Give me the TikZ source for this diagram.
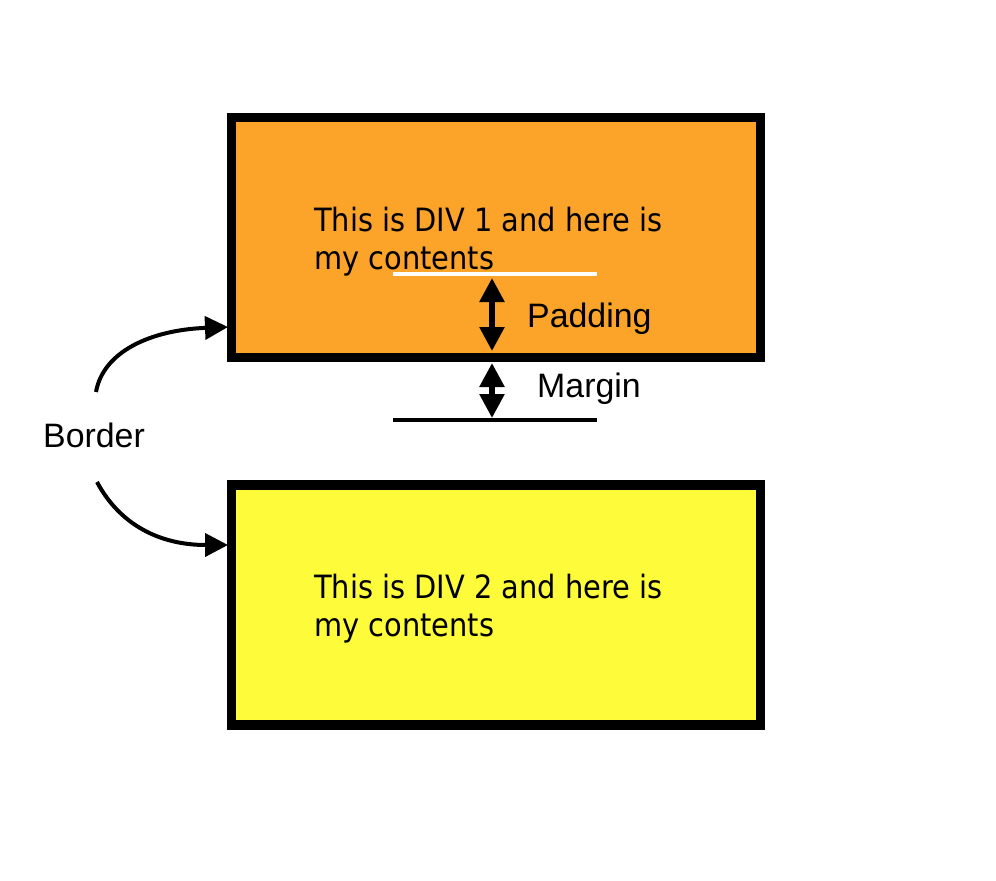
\documentclass[tikz,border=0pt]{standalone}
\usepackage{fontspec}
\setmainfont{Liberation Sans}
\newfontfamily\divfont{DejaVu Sans Condensed}
\usetikzlibrary{arrows.meta}
\definecolor{divorange}{RGB}{252,163,42}
\definecolor{divyellow}{RGB}{254,252,58}
\tikzset{
  divbox/.style={draw=black, line width=9.5bp, minimum width=529bp, minimum height=240bp, inner sep=0pt},
  divtext/.style={anchor=north west, align=left, inner sep=0pt, font=\divfont\fontsize{32.2}{38.5}\selectfont},
  lbl/.style={anchor=base west, inner sep=0pt, font=\fontsize{34}{40}\selectfont},
  dimarrow/.style={line width=5.5bp, {Triangle[length=24bp,width=24bp]}-{Triangle[length=24bp,width=24bp]}},
  bordarrow/.style={line width=4bp, -{Triangle[length=23bp,width=23bp]}},
  refline/.style={line width=4bp}
}
\begin{document}
\begin{tikzpicture}[x=1bp,y=-1bp]
\useasboundingbox (0,0) rectangle (996,881);
\node[divbox, fill=divorange] (box1) at (496,237.5) {};
\node[divbox, fill=divyellow] (box2) at (496,605) {};
\node[divtext] (t1) at (314,207) {This is DIV 1 and here is\\my contents};
\node[divtext] (t2) at (314,574) {This is DIV 2 and here is\\my contents};
% reference lines
\coordinate (wl) at (393,274);
\coordinate (wr) at (597,274);
\coordinate (bl) at (393,420);
\coordinate (br) at (597,420);
\draw[refline, white] (wl) -- (wr);
\draw[refline, black] (bl) -- (br);
% padding / margin arrows
\coordinate (p1) at (492,278);
\coordinate (p2) at (492,351);
\coordinate (m1) at (492,363);
\coordinate (m2) at (492,418);
\draw[dimarrow] (p1) -- (p2);
\draw[dimarrow] (m1) -- (m2);
\node[lbl] (pad) at (527,327) {Padding};
\node[lbl] (mar) at (537,397) {Margin};
\node[lbl] (bord) at (43,447) {Border};
% border arrows
\coordinate (s1) at (96,392);
\coordinate (e1) at (228,327);
\coordinate (s2) at (97,482);
\coordinate (e2) at (228,545);
\draw[bordarrow] (s1) .. controls (103,352) and (150,330) .. (e1);
\draw[bordarrow] (s2) .. controls (120,525) and (160,545) .. (e2);
\end{tikzpicture}
\end{document}
